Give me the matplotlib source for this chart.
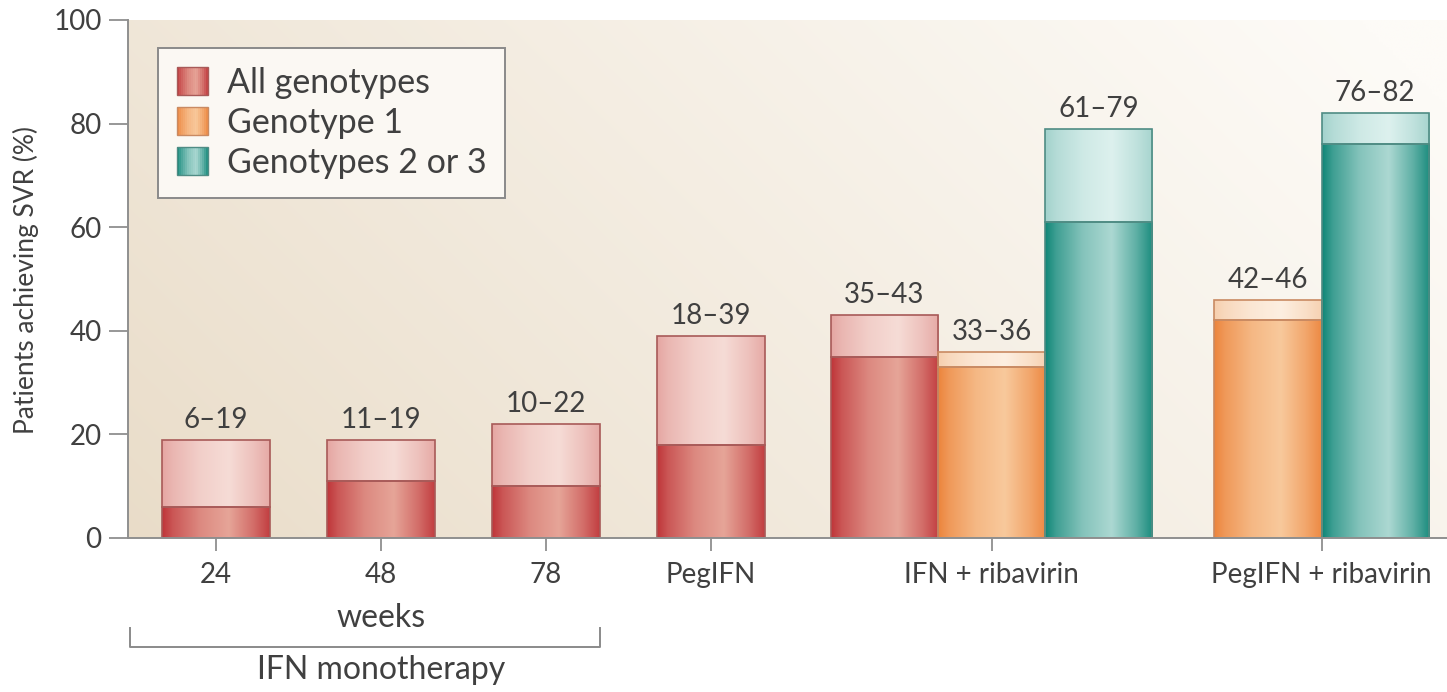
import numpy as np
import matplotlib
matplotlib.use("Agg")
import matplotlib.pyplot as plt
from matplotlib.colors import to_rgb
from matplotlib.patches import Patch, Rectangle
from matplotlib.legend_handler import HandlerBase
from matplotlib.transforms import blended_transform_factory

# ---- data: sustained virological response (%) ranges ----
categories = ["24", "48", "78", "PegIFN", "IFN + ribavirin", "PegIFN + ribavirin"]
all_genotypes_low = [6, 11, 10, 18, 35]
all_genotypes_high = [19, 19, 22, 39, 43]
genotype1_low = [33, 42]
genotype1_high = [36, 46]
genotype23_low = [61, 76]
genotype23_high = [79, 82]
series_names = ["All genotypes", "Genotype 1", "Genotypes 2 or 3"]
y_ticks = [0, 20, 40, 60, 80, 100]

plt.rcParams["font.family"] = ["Lato", "DejaVu Sans"]
TEXT = "#404040"
AXIS = "#8f8f8f"
FS_TICK = 20
FS_VALUE = 20
FS_NOTE = 23
FS_LEGEND = 24.5
FS_YLABEL = 19

# (edge colour, highlight colour) for the solid and the range parts
PALETTE = {
    "All genotypes": {"solid": ("#bf3539", "#e6a598"), "range": ("#e5a6a2", "#f6dcd6"),
                      "line": "#a85a58"},
    "Genotype 1": {"solid": ("#ec843c", "#f8c99c"), "range": ("#f6cfae", "#fdefe1"),
                   "line": "#c98a62"},
    "Genotypes 2 or 3": {"solid": ("#0f8677", "#acd8d2"), "range": ("#a2d2cc", "#ddf1ee"),
                         "line": "#4f8c84"},
}

# horizontal shading profile across a bar (0 = edge colour, 1 = highlight)
PROFILE_T = [0.0, 0.10, 0.35, 0.62, 0.85, 1.0]
PROFILE_V = [0.0, 0.30, 0.75, 1.00, 0.50, 0.08]


def shade(edge, hi, t):
    f = np.interp(t, PROFILE_T, PROFILE_V)
    e = np.array(to_rgb(edge))
    h = np.array(to_rgb(hi))
    return e + (h - e) * f


def gradient_strip(edge, hi, n=200):
    t = np.linspace(0, 1, n)
    return np.array([shade(edge, hi, v) for v in t])[None, :, :]


fig = plt.figure(figsize=(14.47, 6.92), dpi=100)
fig.patch.set_facecolor("white")
ax = fig.add_axes([128 / 1447, 1 - 538 / 692, 1319 / 1447, 518 / 692])
ax.set_facecolor("none")

# warm background fading from tan (lower left) to near white (upper right)
gx, gy = np.meshgrid(np.linspace(0, 1, 400), np.linspace(0, 1, 200))
tmix = np.clip(0.75 * gx + 0.30 * (1 - gy), 0, 1) ** 0.9
tan = np.array(to_rgb("#e9dcc8"))
light = np.array(to_rgb("#fdfbf7"))
bg = tan + (light - tan) * tmix[..., None]
ax.imshow(bg, extent=[0, 1, 0, 1], transform=ax.transAxes, aspect="auto",
          origin="upper", zorder=0, interpolation="bilinear")

# ---- layout of the bars ----
width = 0.65
group_centers = [0, 1, 2, 3, 4.7, 6.7]
bars = []  # (x, low, high, series)
for i in range(4):
    bars.append((group_centers[i], all_genotypes_low[i], all_genotypes_high[i], "All genotypes"))
bars.append((group_centers[4] - width, all_genotypes_low[4], all_genotypes_high[4], "All genotypes"))
bars.append((group_centers[4], genotype1_low[0], genotype1_high[0], "Genotype 1"))
bars.append((group_centers[4] + width, genotype23_low[0], genotype23_high[0], "Genotypes 2 or 3"))
bars.append((group_centers[5] - width / 2, genotype1_low[1], genotype1_high[1], "Genotype 1"))
bars.append((group_centers[5] + width / 2, genotype23_low[1], genotype23_high[1], "Genotypes 2 or 3"))


def shaded_bar(x, bottom, height, colors, line):
    patch = ax.bar(x, height, width=width, bottom=bottom, facecolor="none",
                   edgecolor=line, linewidth=1.2, zorder=3)[0]
    img = ax.imshow(gradient_strip(*colors), extent=[x - width / 2, x + width / 2,
                                                     bottom, bottom + height],
                    aspect="auto", zorder=2, interpolation="bilinear")
    img.set_clip_path(patch)
    return patch


for x, lo, hi, name in bars:
    pal = PALETTE[name]
    shaded_bar(x, 0, lo, pal["solid"], pal["line"])
    shaded_bar(x, lo, hi - lo, pal["range"], pal["line"])
    ax.annotate(f"{lo}\u2013{hi}", xy=(x, hi), xytext=(0, 5), textcoords="offset points",
                ha="center", va="bottom", fontsize=FS_VALUE, color=TEXT)

# ---- axes ----
ax.set_xlim(-0.533, 7.46)
ax.set_ylim(0, 100)
for s in ("top", "right"):
    ax.spines[s].set_visible(False)
for s in ("left", "bottom"):
    ax.spines[s].set_color(AXIS)
    ax.spines[s].set_linewidth(1.4)
    ax.spines[s].set_zorder(4)

ax.set_yticks(y_ticks)
ax.set_yticklabels([str(v) for v in y_ticks])
ax.set_xticks(group_centers)
ax.set_xticklabels(categories)
ax.tick_params(axis="y", length=14, width=1.3, color=AXIS, pad=5,
               labelsize=FS_TICK, labelcolor=TEXT)
ax.tick_params(axis="x", length=9.5, width=1.3, color=AXIS, pad=8,
               labelsize=FS_TICK, labelcolor=TEXT)

fig.text(26 / 1447, 1 - 280 / 692, "Patients achieving SVR (%)", rotation=90,
         ha="center", va="center", fontsize=FS_YLABEL, color=TEXT)

# monotherapy duration annotation and bracket
fig_y = blended_transform_factory(ax.transData, fig.transFigure)
ax.text(1, 1 - 618 / 692, "weeks", transform=fig_y, ha="center", va="center",
        fontsize=FS_NOTE, color=TEXT)
br_left, br_right = -0.52, 2 + width / 2
br_y, br_top = 1 - 647 / 692, 1 - 628 / 692
ax.plot([br_left, br_left, br_right, br_right], [br_top, br_y, br_y, br_top],
        transform=fig_y, color="#8a8a8a", lw=1.4, clip_on=False)
ax.text(1, 1 - 670 / 692, "IFN monotherapy", transform=fig_y, ha="center",
        va="center", fontsize=FS_NOTE, color=TEXT)


# ---- legend with shaded swatches ----
class ShadedSwatch(HandlerBase):
    def __init__(self, colors, line):
        super().__init__()
        self.colors = colors
        self.line = line

    def create_artists(self, legend, orig_handle, xdescent, ydescent, width, height,
                       fontsize, trans):
        arts = []
        n = 16
        for i in range(n):
            c = shade(*self.colors, (i + 0.5) / n)
            arts.append(Rectangle((-xdescent + i * width / n, -ydescent), width / n * 1.05,
                                  height, facecolor=c, edgecolor="none", transform=trans))
        arts.append(Rectangle((-xdescent, -ydescent), width, height, facecolor="none",
                              edgecolor=self.line, lw=1.0, transform=trans))
        return arts


handles = [Patch(label=n) for n in series_names]
hmap = {h: ShadedSwatch(PALETTE[n]["solid"], PALETTE[n]["line"])
        for h, n in zip(handles, series_names)}
leg = ax.legend(handles=handles, handler_map=hmap, loc="upper left",
                bbox_to_anchor=((158 - 128) / 1319, (538 - 48) / 518), borderaxespad=0,
                fontsize=FS_LEGEND, frameon=True, fancybox=False, framealpha=1,
                facecolor="#fbf8f3", edgecolor="#8a8a8a", handlelength=0.93,
                handleheight=0.88, handletextpad=0.55, labelspacing=0.24,
                borderpad=0.55)
leg.get_frame().set_linewidth(1.4)
for t in leg.get_texts():
    t.set_color(TEXT)
leg.set_zorder(5)

fig.savefig("out.png", dpi=100)
